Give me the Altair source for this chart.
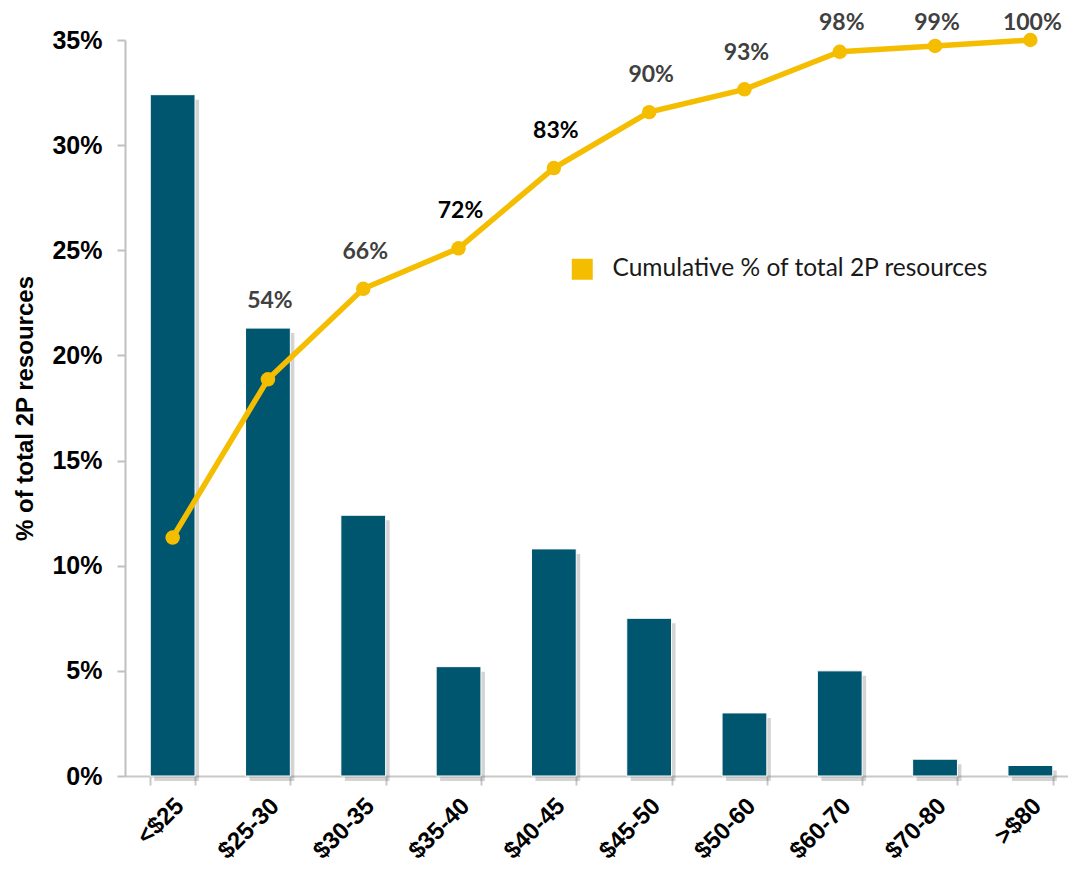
import altair as alt
import pandas as pd

categories = ["<$25", "$25-30", "$30-35", "$35-40", "$40-45", "$45-50", "$50-60", "$60-70", "$70-80", ">$80"]
share_pct = [32.4, 21.3, 12.4, 5.2, 10.8, 7.5, 3.0, 5.0, 0.8, 0.5]
cumulative_pct = [32.4, 53.9, 66.2, 71.7, 82.6, 90.2, 93.3, 98.4, 99.2, 100.0]
cumulative_labels = ["", "54%", "66%", "72%", "83%", "90%", "93%", "98%", "99%", "100%"]
y_ticks = [0, 5, 10, 15, 20, 25, 30, 35]
series_name = "Cumulative % of total 2P resources"

BAR = "#00566E"
GOLD = "#F5BD00"

df = pd.DataFrame({
    "cat": categories,
    "share": share_pct,
    "cum": cumulative_pct,
    "lab": cumulative_labels,
})

x_enc = alt.X(
    "cat:N",
    sort=categories,
    title=None,
    scale=alt.Scale(paddingInner=0.53, paddingOuter=0.265),
    axis=alt.Axis(
        labelAngle=-45, labelAlign="right", labelBaseline="middle",
        labelFont="Liberation Sans", labelFontSize=24, labelFontWeight="bold",
        labelColor="#000000", labelPadding=17, labelOffset=7,
        tickBand="extent", tickSize=9, tickColor="#c8c8c8", tickWidth=2,
        domainColor="#c8c8c8", domainWidth=2, grid=False,
    ),
)

y_axis = alt.Axis(
    values=y_ticks, labelExpr="datum.value + '%'",
    labelFont="Liberation Sans", labelFontSize=25, labelFontWeight="bold",
    labelColor="#000000", labelPadding=15,
    tickSize=8, tickColor="#c0c0c0", tickWidth=2,
    domainColor="#c0c0c0", domainWidth=2, grid=False,
    titleFont="Liberation Sans", titleFontSize=24, titleFontWeight="bold",
    titleColor="#000000", titlePadding=14,
)
y_bar = alt.Y(
    "share:Q",
    scale=alt.Scale(domain=[0, 35], nice=False),
    title="% of total 2P resources",
    axis=y_axis,
)

base = alt.Chart(df)

shadow = base.mark_bar(color="#6f6f6f", opacity=0.3, xOffset=4, yOffset=5).encode(
    x=x_enc, y=y_bar
)
bars = base.mark_bar(color=BAR, stroke="#ffffff", strokeWidth=1).encode(x=x_enc, y=y_bar)

y_cum = alt.Y("cum:Q", scale=alt.Scale(domain=[0, 100], nice=False), axis=None)

line = base.mark_line(color=GOLD, strokeWidth=5.5).encode(x=x_enc, y=y_cum)
points = base.transform_calculate(series=f"'{series_name}'").mark_point(
    filled=True, size=210, opacity=1
).encode(
    x=x_enc, y=y_cum,
    color=alt.Color(
        "series:N",
        scale=alt.Scale(range=[GOLD]),
        legend=alt.Legend(
            title=None, orient="none", legendX=445, legendY=217,
            symbolType="square", symbolSize=440, symbolStrokeWidth=0,
            labelFont="Lato", labelFontSize=24.5, labelColor="#1a1a1a",
            labelOffset=18, padding=0, labelLimit=600,
        ),
    ),
)

labels = base.transform_filter("datum.lab != ''").transform_calculate(
    ly="min(102.3, max(datum.cum + 5, datum.share / 0.35 + 3.7))"
).mark_text(
    font="Lato", fontSize=23, fontWeight="bold", baseline="middle", align="center", dx=2
).encode(
    x=x_enc,
    y=alt.Y("ly:Q", scale=alt.Scale(domain=[0, 100], nice=False), axis=None),
    text="lab:N",
    color=alt.condition(
        alt.FieldOneOfPredicate(field="cat", oneOf=["$35-40", "$40-45"]),
        alt.value("#000000"),
        alt.value("#404040"),
    ),
)

bar_layer = alt.layer(shadow, bars)
cum_layer = alt.layer(line, points, labels)

chart = alt.layer(bar_layer, cum_layer).resolve_scale(y="independent").properties(
    width=953,
    height=736,
    padding={"left": 117, "top": 32, "right": -10, "bottom": 92},
    autosize=alt.AutoSizeParams(type="none"),
    background="#ffffff",
).configure_view(stroke=None)

chart.save("out.html", embed_options={"renderer": "svg", "actions": False})
